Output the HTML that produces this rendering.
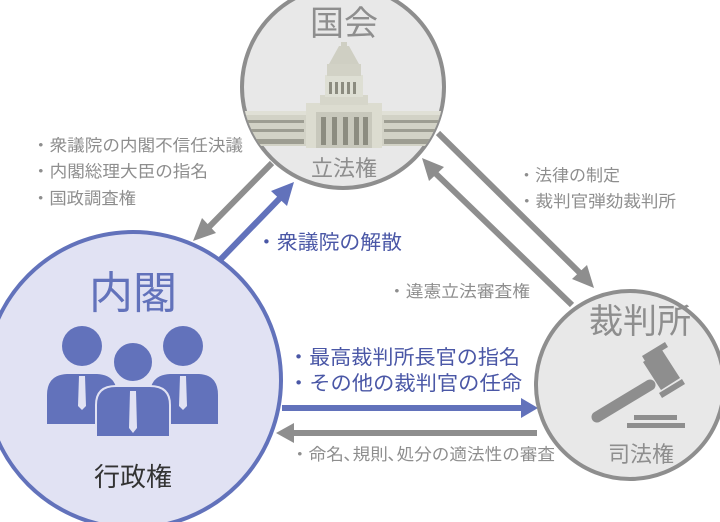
<!DOCTYPE html>
<html><head><meta charset="utf-8"><style>
html,body{margin:0;padding:0;background:#fff;}
svg{display:block;}
text{font-family:"Liberation Sans","Noto Sans CJK JP",sans-serif;}
</style></head><body>
<svg width="720" height="522" viewBox="0 0 720 522" xmlns="http://www.w3.org/2000/svg">
<defs>
<clipPath id="dc"><circle cx="343" cy="87" r="101"/></clipPath>
</defs>
<g stroke="#8e8e8e" stroke-width="6" fill="none">
<line x1="272" y1="163" x2="208" y2="228"/>
<line x1="438" y1="133" x2="583" y2="276"/>
<line x1="572" y1="305" x2="432" y2="170"/>
<line x1="537" y1="433" x2="292" y2="433"/>
</g>
<g fill="#8e8e8e">
<polygon points="193,241 202,218 216,233"/>
<polygon points="594,288 572,279 587,265"/>
<polygon points="422,158 444,167 429,181"/>
<polygon points="276,433 294,423 294,443"/>
</g>
<g stroke="#6272bb" stroke-width="6" fill="none">
<line x1="220" y1="260" x2="282" y2="196"/>
<line x1="282" y1="408" x2="522" y2="408"/>
</g>
<g fill="#6272bb">
<polygon points="294,182 287,206 271,191"/>
<polygon points="538,408 521,398 521,418"/>
</g>
<circle cx="343" cy="87" r="101" fill="#e8e8e8" stroke="#8e8e8e" stroke-width="4"/>
<g clip-path="url(#dc)">
<rect x="240" y="113" width="210" height="33" fill="#d2d2c6"/>
<rect x="240" y="111" width="210" height="4" fill="#e0e0d6"/>
<g fill="#9d9d92">
<rect x="244" y="120" width="60" height="3"/><rect x="244" y="129" width="60" height="3"/>
<rect x="384" y="120" width="60" height="3"/><rect x="384" y="129" width="60" height="3"/>
<rect x="244" y="139" width="60" height="5"/><rect x="384" y="139" width="60" height="5"/>
</g>
<rect x="306" y="103" width="76" height="45" fill="#dcdcd0"/>
<rect x="316" y="112" width="56" height="36" fill="#c8c8bc"/>
<g fill="#8c8c80"><rect x="321" y="117" width="5" height="28"/><rect x="332" y="117" width="5" height="28"/><rect x="343" y="117" width="5" height="28"/><rect x="354" y="117" width="5" height="28"/><rect x="363" y="117" width="5" height="28"/></g>
<rect x="320" y="95" width="48" height="10" fill="#d6d6ca"/>
<rect x="325" y="75" width="38" height="22" fill="#dedfd4"/>
<g fill="#8c8c80"><rect x="329" y="82" width="3" height="12"/><rect x="335" y="82" width="3" height="12"/><rect x="341" y="82" width="3" height="12"/><rect x="347" y="82" width="3" height="12"/><rect x="353" y="82" width="3" height="12"/></g>
<rect x="327" y="64" width="34" height="12" fill="#d2d2c6"/>
<polygon points="329,64 359,64 349,46 339,46" fill="#cfcfc3"/>
<rect x="341" y="42" width="6" height="5" fill="#cfcfc3"/>
</g>
<text x="344" y="35" font-size="34" fill="#8e8e8e" text-anchor="middle">国会</text>
<text x="344" y="176" font-size="22" fill="#8e8e8e" text-anchor="middle">立法権</text>
<circle cx="630" cy="385" r="94" fill="#e8e8e8" stroke="#8e8e8e" stroke-width="4"/>
<text x="640" y="333" font-size="34" fill="#8e8e8e" text-anchor="middle">裁判所</text>
<text x="641" y="462" font-size="22" fill="#8e8e8e" text-anchor="middle">司法権</text>
<g fill="#8e8e8e">
<line x1="597" y1="417" x2="650" y2="385" stroke="#8e8e8e" stroke-width="11" stroke-linecap="round"/>
<polygon points="643,362 662,350 680,378 661,390"/>
<polygon points="642,356 665,342 668,347 645,361"/>
<polygon points="659,393 682,379 685,384 662,398"/>
<rect x="634" y="415" width="43" height="5"/>
<rect x="627" y="423" width="58" height="5"/>
</g>
<circle cx="133" cy="380" r="148" fill="#e1e2f3" stroke="#6272bb" stroke-width="4"/>
<text x="133" y="308" font-size="44" fill="#6272bb" text-anchor="middle">内閣</text>
<g fill="#6272bb">
<circle cx="82" cy="346" r="20"/><circle cx="183" cy="346" r="20"/>
<path d="M47,424 V395 Q47,375 67,374 H97 Q117,375 117,395 V424Z"/>
<path d="M150,424 V395 Q150,375 170,374 H199 Q218,375 218,395 V424Z"/>
<circle cx="133" cy="362" r="20" stroke="#e1e2f3" stroke-width="2"/>
<path d="M96,437 V405 Q96,386 116,386 H150 Q170,386 170,405 V437Z" stroke="#e1e2f3" stroke-width="2"/>
</g>
<g fill="#e1e2f3">
<polygon points="79,376 85,376 86,406 82,410 78,406"/>
<polygon points="180,376 186,376 187,406 183,410 179,406"/>
<polygon points="130,391 136,391 137,428 133,433 129,428"/>
</g>
<text x="133" y="486" font-size="26" fill="#333" text-anchor="middle">行政権</text>
<g font-size="16.5" fill="#8e8e8e">
<text x="32" y="151" textLength="211" lengthAdjust="spacingAndGlyphs">・衆議院の内閣不信任決議</text>
<text x="32" y="177" textLength="176" lengthAdjust="spacingAndGlyphs">・内閣総理大臣の指名</text>
<text x="32" y="204" textLength="104" lengthAdjust="spacingAndGlyphs">・国政調査権</text>
<text x="518" y="181" textLength="102" lengthAdjust="spacingAndGlyphs">・法律の制定</text>
<text x="518" y="207" textLength="158" lengthAdjust="spacingAndGlyphs">・裁判官弾劾裁判所</text>
<text x="388" y="297" textLength="142" lengthAdjust="spacingAndGlyphs">・違憲立法審査権</text>
<text x="291" y="460" textLength="264" lengthAdjust="spacingAndGlyphs">・命名､規則､処分の適法性の審査</text>
</g>
<g font-size="20" fill="#4a57a6">
<text x="256" y="249" textLength="146" lengthAdjust="spacingAndGlyphs">・衆議院の解散</text>
<text x="288" y="364" textLength="232" lengthAdjust="spacingAndGlyphs">・最高裁判所長官の指名</text>
<text x="288" y="390" textLength="234" lengthAdjust="spacingAndGlyphs">・その他の裁判官の任命</text>
</g>
</svg>
</body></html>
